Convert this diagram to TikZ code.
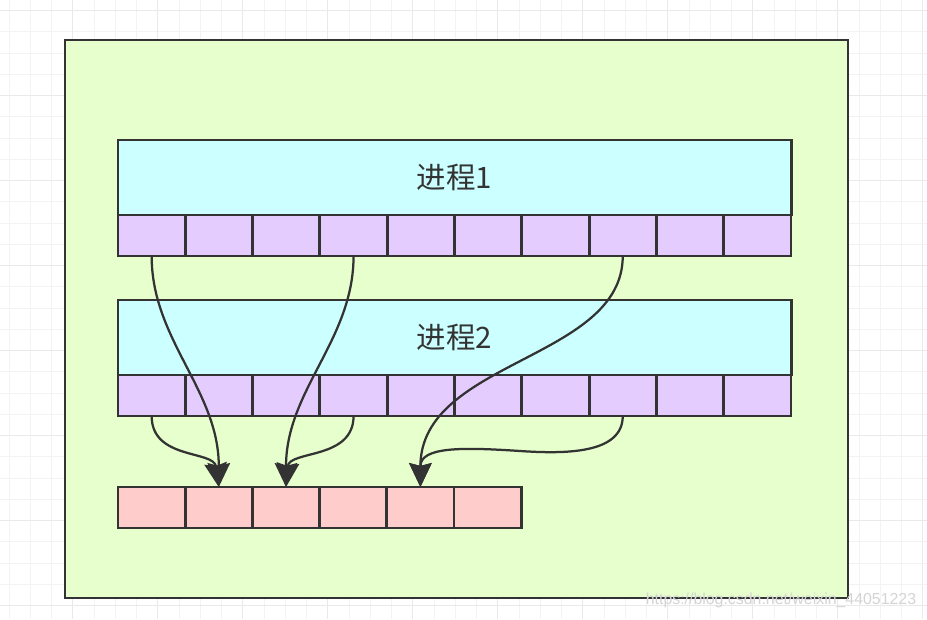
\documentclass[tikz,border=0pt]{standalone}
\usepackage{fontspec}
\usepackage{tikz}
\usepackage{xcolor}
\usetikzlibrary{arrows.meta,positioning,calc}
\newfontfamily\cjk{Noto Sans CJK SC}
\newfontfamily\wmfont{Liberation Sans}
\definecolor{hostgreen}{HTML}{E6FFCC}
\definecolor{proccyan}{HTML}{CCFFFF}
\definecolor{pagepurple}{HTML}{E5CCFF}
\definecolor{framered}{HTML}{FFCCCC}
\definecolor{inkgray}{HTML}{333333}
\definecolor{gridminor}{HTML}{F3F3F3}
\definecolor{gridmajor}{HTML}{E9E9E9}
\definecolor{wmgray}{HTML}{D4D4D4}

\begin{document}
\begin{tikzpicture}[x=0.025cm,y=-0.025cm,
  procbox/.style={draw=inkgray, line width=2pt, fill=proccyan, minimum width=16.825cm, minimum height=1.875cm, inner sep=0, outer sep=0, text=inkgray, font=\cjk\fontsize{21pt}{24pt}\selectfont},
  slotbox/.style={draw=inkgray, line width=2pt, fill=pagepurple, minimum width=1.6825cm, minimum height=1.025cm, inner sep=0, outer sep=0},
  framebox/.style={slotbox, fill=framered, minimum width=1.68cm},
  link/.style={draw=inkgray, line width=1.6pt, -{Stealth[length=17pt,width=16pt,inset=2pt]}}]
\useasboundingbox (0,0) rectangle (927,619);
\fill[white] (0,0) rectangle (927,619);
\foreach \k in {0,...,43} \draw[gridminor, line width=.7pt] ({9+21.25*\k},0) -- ({9+21.25*\k},619);
\foreach \k in {0,...,28} \draw[gridminor, line width=.7pt] (0,{10.5+21.25*\k}) -- (927,{10.5+21.25*\k});
\foreach \k in {3,7,...,43} \draw[gridmajor, line width=.7pt] ({9+21.25*\k},0) -- ({9+21.25*\k},619);
\foreach \k in {0,4,...,28} \draw[gridmajor, line width=.7pt] (0,{10.5+21.25*\k}) -- (927,{10.5+21.25*\k});
\draw[inkgray, line width=2pt, fill=hostgreen] (65,40) rectangle (848,598);
\node[procbox] (proc1) at (454.5,177.5) {进程1};
\node[procbox] (proc2) at (454.5,337.5) {进程2};
\foreach \i in {1,...,10} {
  \node[slotbox] (p1s\i) at ({118+67.3*(\i-.5)},235.5) {};
  \node[slotbox] (p2s\i) at ({118+67.3*(\i-.5)},395.5) {};
}
\foreach \i in {1,...,6} \node[framebox] (r\i) at ({118+67.2*(\i-.5)},507.5) {};
\draw[link] (p1s1.south) .. controls +(0,84) and +(0,-97) .. (r2.north);
\draw[link] (p2s1.south) .. controls +(0,44) and +(-5,-37) .. (r2.north);
\draw[link] (p1s4.south) .. controls +(0,84) and +(0,-97) .. (r3.north);
\draw[link] (p2s4.south) .. controls +(0,44) and +(3,-37) .. (r3.north);
\draw[link] (p1s8.south) .. controls +(0,104) and +(0,-127) .. (r5.north);
\coordinate (turn6) at (520,451);
\draw[link] (p2s8.south) .. controls +(0,38) and +(45,3) .. (turn6) .. controls +(-60,-4) and +(0,-40) .. (r5.north);
\node[text=wmgray, font=\wmfont\fontsize{11.3pt}{13pt}\selectfont, inner sep=0] (wm) at (781,600) {https://blog.csdn.net/weixin\_44051223};
\end{tikzpicture}
\end{document}
